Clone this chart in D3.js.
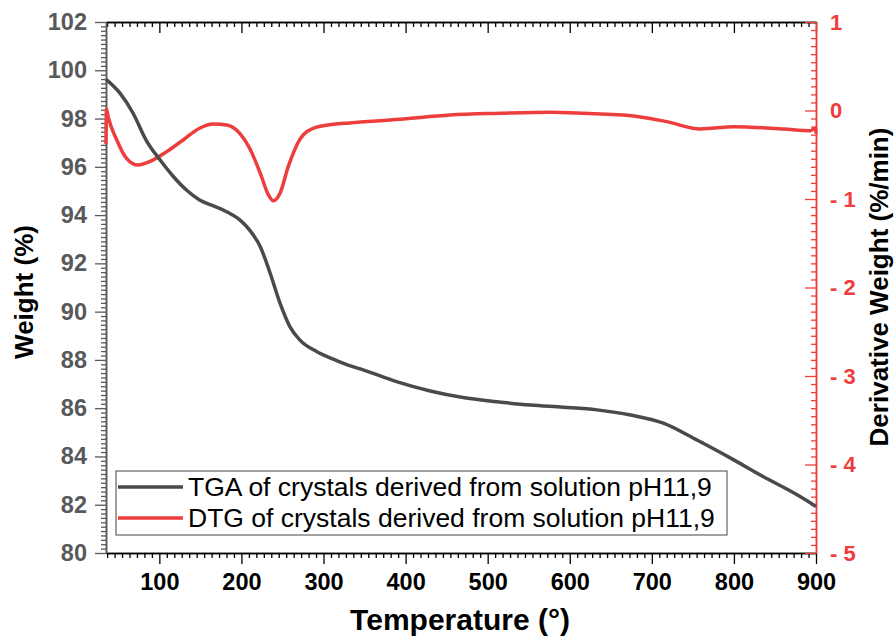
<!DOCTYPE html>
<html>
<head>
  <meta charset="utf-8">
  <style>
    body { margin: 0; background: #fff; }
    svg { display: block; font-family: "Liberation Sans", Arial, sans-serif; }
    .tick text { font-size: 23.5px; font-weight: bold; }
    .right .tick text { font-size: 22px; }
    .title { font-size: 26px; font-weight: bold; fill: #000; }
    .title.x { font-size: 30px; }
    .legend text { font-size: 26.5px; fill: #000; }
  </style>
  <script src="https://d3js.org/d3.v7.min.js"></script>
</head>
<body>
  <script>
    // TGA curve (temperature in °, weight in %)
    var tgaTemp   = [35, 52, 68, 84, 101, 117, 133, 149, 166, 182, 198, 210, 223, 235, 247, 259, 271, 292, 312, 330,
                     349, 389, 430, 470, 511, 552, 592, 633, 674, 714, 755, 796, 836, 877, 900];
    var tgaWeight = [99.62, 99.05, 98.22, 97.1, 96.28, 95.6, 95.04, 94.63, 94.38, 94.14, 93.8, 93.38, 92.69, 91.59, 90.35, 89.38, 88.83, 88.34, 88.03, 87.78,
                     87.58, 87.1, 86.71, 86.44, 86.27, 86.13, 86.04, 85.93, 85.72, 85.38, 84.68, 83.93, 83.16, 82.41, 81.93];

    // DTG curve (derivative weight in %/min)
    var dtgTemp  = [35, 35.5, 37.6, 48, 60, 74, 88, 109, 129, 149, 166, 182, 198, 210, 223, 233, 239, 247, 257, 271,
                    288, 312, 332, 393, 454, 515, 576, 617, 678, 718, 759, 800, 861, 893, 899.5, 900];
    var dtgDeriv = [-0.38, 0.02, -0.07, -0.33, -0.54, -0.616, -0.578, -0.465, -0.333, -0.2, -0.153, -0.164, -0.258, -0.427, -0.71, -0.955, -1.02, -0.935, -0.635, -0.33,
                    -0.2, -0.156, -0.14, -0.1, -0.051, -0.032, -0.02, -0.032, -0.062, -0.126, -0.209, -0.183, -0.21, -0.228, -0.2, -0.26];

    var tempTicks   = [100, 200, 300, 400, 500, 600, 700, 800, 900];
    var weightTicks = [80, 82, 84, 86, 88, 90, 92, 94, 96, 98, 100, 102];
    var derivTicks  = [-5, -4, -3, -2, -1, 0, 1];

    var seriesNames = ["TGA of crystals derived from solution pH11,9",
                       "DTG of crystals derived from solution pH11,9"];

    var GREY = "#4a4a4a", RED = "#ee3d3d", AXIS_GREY = "#58595b";
    var MINOR = 11; // intervals between major ticks

    var width = 895, height = 641;
    var margin = { top: 22, right: 79, bottom: 88, left: 106 };
    var plotW = width - margin.left - margin.right,
        plotH = height - margin.top - margin.bottom;

    var x = d3.scaleLinear().domain([35, 900]).range([0, plotW]);
    var yW = d3.scaleLinear().domain([80, 102]).range([plotH, 0]);
    var yD = d3.scaleLinear().domain([-5, 1]).range([plotH, 0]);

    function minorTicks(scale, majors) {
      var step = (majors[1] - majors[0]) / MINOR, dom = scale.domain(), out = [];
      var start = majors[0] - Math.ceil((majors[0] - dom[0]) / step) * step;
      for (var v = start; v <= dom[1] + 1e-9; v += step) {
        var isMajor = majors.some(function(m) { return Math.abs(m - v) < 1e-6; });
        if (!isMajor && v >= dom[0] - 1e-9) out.push(v);
      }
      return out;
    }

    var svg = d3.select("body").append("svg")
      .attr("width", width)
      .attr("height", height);

    svg.append("rect").attr("width", width).attr("height", height).attr("fill", "#fff");

    var g = svg.append("g")
      .attr("transform", "translate(" + margin.left + "," + margin.top + ")");

    function styleAxis(sel, color) {
      sel.select(".domain").attr("stroke", color).attr("stroke-width", 1.5);
      sel.selectAll(".tick line").attr("stroke", color).attr("stroke-width", 1.3);
      sel.selectAll(".tick text").attr("fill", color);
    }

    // bottom
    g.append("g").attr("transform", "translate(0," + plotH + ")")
      .call(d3.axisBottom(x).tickValues(minorTicks(x, tempTicks)).tickSize(5).tickFormat("").tickSizeOuter(0))
      .call(styleAxis, "#000");
    g.append("g").attr("transform", "translate(0," + plotH + ")")
      .call(d3.axisBottom(x).tickValues(tempTicks).tickSize(11).tickPadding(9).tickSizeOuter(0))
      .call(styleAxis, "#000");

    // top (inward)
    g.append("g")
      .call(d3.axisBottom(x).tickValues(minorTicks(x, tempTicks)).tickSize(5).tickFormat("").tickSizeOuter(0))
      .call(styleAxis, "#000");
    g.append("g")
      .call(d3.axisBottom(x).tickValues(tempTicks).tickSize(11).tickFormat("").tickSizeOuter(0))
      .call(styleAxis, "#000");

    // left
    g.append("g")
      .call(d3.axisLeft(yW).tickValues(minorTicks(yW, weightTicks)).tickSize(5).tickFormat("").tickSizeOuter(0))
      .call(styleAxis, AXIS_GREY);
    g.append("g")
      .call(d3.axisLeft(yW).tickValues(weightTicks).tickSize(11).tickPadding(8).tickSizeOuter(0))
      .call(styleAxis, AXIS_GREY);

    // right (ticks inward, labels outside)
    var derivFmt = function(d) { return d < 0 ? "- " + Math.abs(d) : String(d); };
    g.append("g").attr("transform", "translate(" + plotW + ",0)")
      .call(d3.axisLeft(yD).tickValues(minorTicks(yD, derivTicks)).tickSize(5).tickFormat("").tickSizeOuter(0))
      .call(styleAxis, RED);
    var rightAxis = g.append("g").attr("class", "right").attr("transform", "translate(" + plotW + ",0)")
      .call(d3.axisLeft(yD).tickValues(derivTicks).tickSize(11).tickFormat(derivFmt).tickSizeOuter(0))
      .call(styleAxis, RED);
    rightAxis.selectAll(".tick text").attr("text-anchor", "start").attr("x", 14);

    // curves
    var tga = tgaTemp.map(function(t, i) { return [t, tgaWeight[i]]; });
    var dtg = dtgTemp.map(function(t, i) { return [t, dtgDeriv[i]]; });

    g.append("path").datum(dtg)
      .attr("fill", "none").attr("stroke", RED).attr("stroke-width", 3.5)
      .attr("stroke-linejoin", "round")
      .attr("d", d3.line().x(function(d) { return x(d[0]); }).y(function(d) { return yD(d[1]); }).curve(d3.curveMonotoneX));

    g.append("path").datum(tga)
      .attr("fill", "none").attr("stroke", GREY).attr("stroke-width", 3.5)
      .attr("stroke-linejoin", "round")
      .attr("d", d3.line().x(function(d) { return x(d[0]); }).y(function(d) { return yW(d[1]); }).curve(d3.curveMonotoneX));

    // legend
    var legend = svg.append("g").attr("class", "legend").attr("transform", "translate(116,471)");
    legend.append("rect").attr("width", 611).attr("height", 64)
      .attr("fill", "#fff").attr("stroke", "#444").attr("stroke-width", 1);
    [GREY, RED].forEach(function(c, i) {
      var row = legend.append("g").attr("transform", "translate(0," + (16 + i * 31) + ")");
      row.append("line").attr("x1", 2).attr("x2", 67).attr("stroke", c).attr("stroke-width", 3.5);
      row.append("text").attr("x", 72).attr("dy", "0.35em").text(seriesNames[i]);
    });

    // axis titles
    svg.append("text").attr("class", "title x")
      .attr("text-anchor", "middle")
      .attr("transform", "translate(460,630)")
      .text("Temperature (°)");
    svg.append("text").attr("class", "title")
      .attr("text-anchor", "middle")
      .attr("transform", "translate(33,292) rotate(-90)")
      .text("Weight (%)");
    svg.append("text").attr("class", "title")
      .attr("text-anchor", "middle")
      .attr("transform", "translate(888,287) rotate(-90)")
      .text("Derivative Weight (%/min)");
  </script>
</body>
</html>
